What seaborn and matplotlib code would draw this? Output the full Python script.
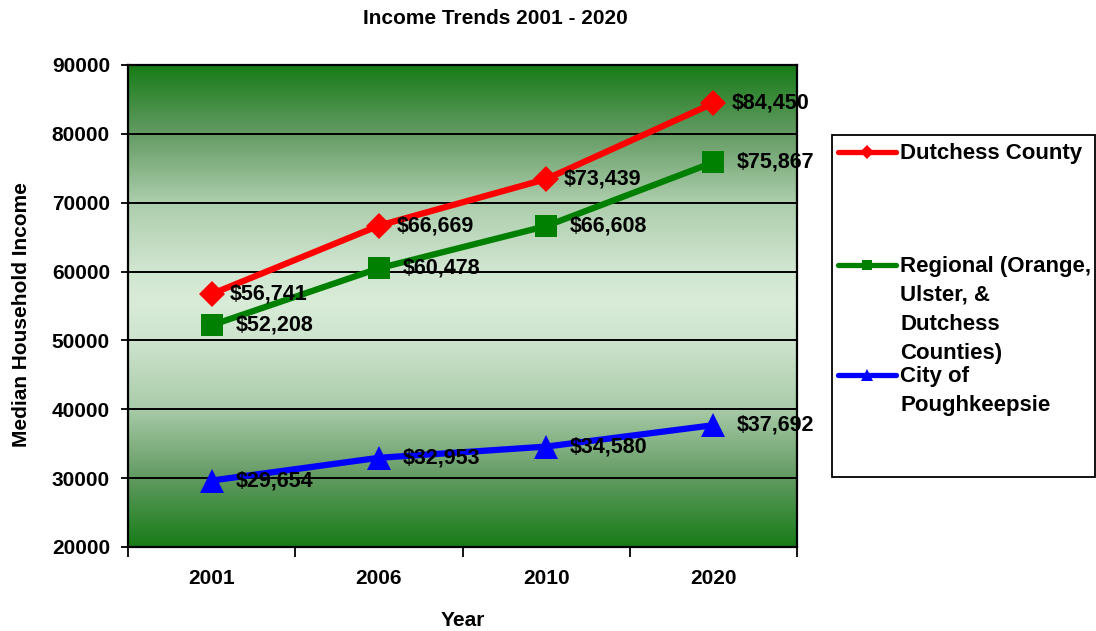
import numpy as np
import pandas as pd
import matplotlib
matplotlib.use("Agg")
import matplotlib.pyplot as plt
from matplotlib.lines import Line2D
from matplotlib.patches import Rectangle
import seaborn as sns

# ---- data -------------------------------------------------------------
years = ["2001", "2006", "2010", "2020"]
dutchess = [56741, 66669, 73439, 84450]
regional = [52208, 60478, 66608, 75867]
poughkeepsie = [29654, 32953, 34580, 37692]
series_names = ["Dutchess County", "Regional", "City of Poughkeepsie"]
legend_labels = [
    "Dutchess County",
    "Regional (Orange,\nUlster, &\nDutchess\nCounties)",
    "City of\nPoughkeepsie",
]
y_ticks = [20000, 30000, 40000, 50000, 60000, 70000, 80000, 90000]

df = pd.DataFrame({
    "Year": years * 3,
    "Income": dutchess + regional + poughkeepsie,
    "Series": np.repeat(series_names, len(years)),
})

# ---- style ------------------------------------------------------------
sns.set_style("ticks")
plt.rcParams["font.family"] = ["Liberation Sans", "DejaVu Sans"]
plt.rcParams["font.weight"] = "bold"
plt.rcParams["text.color"] = "black"
plt.rcParams["axes.labelcolor"] = "black"
plt.rcParams["xtick.color"] = "black"
plt.rcParams["ytick.color"] = "black"

W, H = 1096, 631
fig = plt.figure(figsize=(W / 100, H / 100), dpi=100)
ax = fig.add_axes([128 / W, 1 - 547 / H, 669 / W, 482 / H])

line_styles = {
    "Dutchess County": dict(color="#ff0000", marker="D", ms=13, off=13),
    "Regional": dict(color="#008000", marker="s", ms=16, off=17),
    "City of Poughkeepsie": dict(color="#0000ff", marker="^", ms=17, off=17),
}

for name in series_names:
    st = line_styles[name]
    sub = df[df["Series"] == name]
    sns.lineplot(data=sub, x="Year", y="Income", ax=ax, color=st["color"],
                 marker=st["marker"], markersize=st["ms"], markeredgewidth=0,
                 linewidth=4.5, sort=False, legend=False, zorder=3)
    for i, v in enumerate(sub["Income"]):
        ax.annotate(f"${v:,}", (i, v), xytext=(st["off"], 0),
                    textcoords="offset points", ha="left", va="center",
                    fontsize=15.5, fontweight="bold", color="black", zorder=4)

# ---- gradient plot background ------------------------------------------
d_knots = [0.0, 0.29, 0.57, 0.86, 1.0]
c_knots = np.array([[22, 124, 22], [100, 155, 100], [170, 204, 170],
                    [208, 229, 208], [216, 236, 216]]) / 255.0
n = 600
t = np.linspace(0, 1, n)          # 0 = top, 1 = bottom
center = 0.49
d = np.where(t < center, t / center, (1 - t) / (1 - center))
grad = np.stack([np.interp(d, d_knots, c_knots[:, k]) for k in range(3)], axis=-1)
grad = grad[:, None, :]
ax.imshow(grad, extent=[-0.5, 3.5, 20000, 90000], aspect="auto",
          interpolation="bilinear", zorder=0, origin="upper")

# ---- axes ---------------------------------------------------------------
ax.set_xlim(-0.5, 3.5)
ax.set_ylim(20000, 90000)
ax.set_yticks(y_ticks)
ax.set_yticklabels([str(v) for v in y_ticks], fontsize=15, fontweight="bold")
ax.set_xticks(range(len(years)))
ax.set_xticklabels(years, fontsize=15, fontweight="bold")
ax.set_xticks(np.arange(-0.5, len(years), 1.0), minor=True)
ax.tick_params(axis="x", which="major", length=0, pad=16)
ax.tick_params(axis="x", which="minor", length=7, width=1.3, direction="out",
               color="black")
ax.tick_params(axis="y", which="major", length=5, width=1.3, direction="out",
               pad=8, color="black")
ax.set_axisbelow(True)
ax.grid(axis="y", color="black", linewidth=1.4)
ax.grid(axis="x", visible=False)
for sp in ax.spines.values():
    sp.set_visible(True)
    sp.set_color("black")
    sp.set_linewidth(1.6)

ax.set_xlabel("Year", fontsize=15, fontweight="bold")
ax.set_ylabel("Median Household Income", fontsize=15, fontweight="bold")
ax.xaxis.set_label_coords(0.5, (547 - 611) / 482)
ax.yaxis.set_label_coords((31 - 128) / 669, (547 - 315) / 482)

fig.text(495 / W, 1 - 18 / H, "Income Trends 2001 - 2020", ha="center",
         va="center", fontsize=15, fontweight="bold")

# ---- legend -------------------------------------------------------------
fig.add_artist(Rectangle((832 / W, 1 - 477 / H), 263 / W, 342 / H,
                         transform=fig.transFigure, facecolor="white",
                         edgecolor="black", linewidth=1.3))
legend_rows = [152, 265, 375]
legend_ms = {"Dutchess County": 7, "Regional": 6.5, "City of Poughkeepsie": 8}
for name, label, yc in zip(series_names, legend_labels, legend_rows):
    st = line_styles[name]
    yf = 1 - yc / H
    fig.add_artist(Line2D([838 / W, 867 / W, 896 / W], [yf, yf, yf],
                          transform=fig.transFigure, color=st["color"],
                          linewidth=3.8, marker=st["marker"],
                          markersize=legend_ms[name], markeredgewidth=0,
                          markevery=[1], solid_capstyle="round"))
    fig.text(900 / W, 1 - (yc - 9) / H, label, ha="left", va="top",
             fontsize=16, fontweight="bold", linespacing=1.5)

fig.savefig("out.png", dpi=100, facecolor="white")
